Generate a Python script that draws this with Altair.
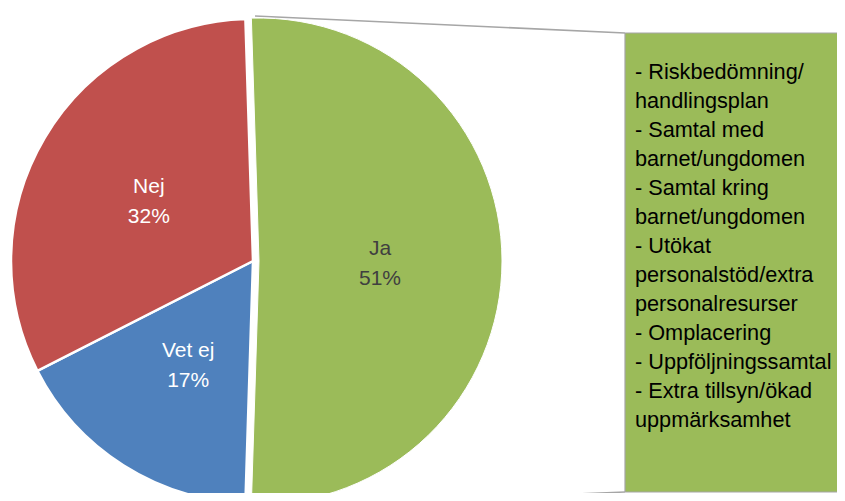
import math
import altair as alt
import pandas as pd

# ---- data ----
categories = ["Ja", "Vet ej", "Nej"]
shares = [51, 17, 32]
slice_colors = ["#9BBB59", "#4F81BD", "#C0504D"]
measures = [
    "- Riskbedömning/",
    "handlingsplan",
    "- Samtal med",
    "barnet/ungdomen",
    "- Samtal kring",
    "barnet/ungdomen",
    "- Utökat",
    "personalstöd/extra",
    "personalresurser",
    "- Omplacering",
    "- Uppföljningssamtal",
    "- Extra tillsyn/ökad",
    "uppmärksamhet",
]

FONT = "Liberation Sans"
W, H = 829, 485
df = pd.DataFrame({"cat": categories, "val": shares, "order": list(range(len(categories)))})

# rotate so that the first slice ("Ja") faces the box on the right
total = sum(shares)
rot = math.radians((shares[0] / total * 360 - 180) / 2)
theta_scale = alt.Scale(domain=[0, total], range=[-rot, 2 * math.pi - rot])

base = (
    alt.Chart(df)
    .transform_window(end="sum(val)", sort=[alt.SortField("order")], frame=[None, 0])
    .transform_calculate(
        start="datum.end - datum.val",
        mid="datum.end - datum.val / 2",
        label="datum.cat + '\\n' + datum.val + '%'",
    )
)

color_enc = alt.Color("cat:N", scale=alt.Scale(domain=categories, range=slice_colors), legend=None)

rest_arcs = base.transform_filter("datum.cat != 'Ja'").mark_arc(
    radius=242, stroke="white", strokeWidth=2.5
).encode(
    theta=alt.Theta("start:Q", scale=theta_scale),
    theta2="end:Q",
    x=alt.value(245),
    y=alt.value(253),
    color=color_enc,
)

ja_arc = base.transform_filter("datum.cat == 'Ja'").mark_arc(
    radius=243, stroke="white", strokeWidth=1
).encode(
    theta=alt.Theta("start:Q", scale=theta_scale),
    theta2="end:Q",
    x=alt.value(251),
    y=alt.value(253),
    color=color_enc,
)

rest_labels = base.transform_filter("datum.cat != 'Ja'").mark_text(
    radius=121, font=FONT, fontSize=21, lineBreak="\n", lineHeight=30,
    align="center", baseline="middle", color="white", dy=-12,
).encode(
    theta=alt.Theta("mid:Q", scale=theta_scale),
    x=alt.value(245),
    y=alt.value(253),
    text="label:N",
)

ja_label = base.transform_filter("datum.cat == 'Ja'").mark_text(
    radius=121, font=FONT, fontSize=21, lineBreak="\n", lineHeight=30,
    align="center", baseline="middle", color="#404040", dy=-12,
).encode(
    theta=alt.Theta("mid:Q", scale=theta_scale),
    x=alt.value(251),
    y=alt.value(253),
    text="label:N",
)

dummy = pd.DataFrame({"k": [0]})
GRAY = "#a6a6a6"

top_line = alt.Chart(dummy).mark_rule(color=GRAY, strokeWidth=1.5).encode(
    x=alt.value(247), y=alt.value(8), x2=alt.value(617), y2=alt.value(25)
)
bottom_line = alt.Chart(dummy).mark_rule(color=GRAY, strokeWidth=1.5).encode(
    x=alt.value(247), y=alt.value(499), x2=alt.value(617), y2=alt.value(484)
)

box = alt.Chart(dummy).mark_rect(fill="#9BBB59").encode(
    x=alt.value(617), x2=alt.value(W + 10), y=alt.value(25), y2=alt.value(484)
)
box_left = alt.Chart(dummy).mark_rule(color=GRAY, strokeWidth=1.2).encode(
    x=alt.value(617), x2=alt.value(617), y=alt.value(25), y2=alt.value(484)
)
box_top = alt.Chart(dummy).mark_rule(color=GRAY, strokeWidth=1.2).encode(
    x=alt.value(617), x2=alt.value(W + 10), y=alt.value(25), y2=alt.value(25)
)
box_bottom = alt.Chart(dummy).mark_rule(color=GRAY, strokeWidth=1.2).encode(
    x=alt.value(617), x2=alt.value(W + 10), y=alt.value(484), y2=alt.value(484)
)

box_text = alt.Chart(pd.DataFrame({"t": ["\n".join(measures)]})).mark_text(
    font=FONT, fontSize=21.7, lineBreak="\n", lineHeight=29,
    align="left", baseline="alphabetic", color="black",
).encode(
    x=alt.value(627), y=alt.value(71), text="t:N"
)

chart = (
    alt.layer(top_line, bottom_line, box, box_left, box_top, box_bottom,
              rest_arcs, ja_arc, rest_labels, ja_label, box_text)
    .properties(width=W, height=H, padding=0, autosize=alt.AutoSizeParams(type="none"))
    .configure_view(stroke=None)
)

chart.save("out.html", embed_options={"renderer": "svg", "actions": False})
